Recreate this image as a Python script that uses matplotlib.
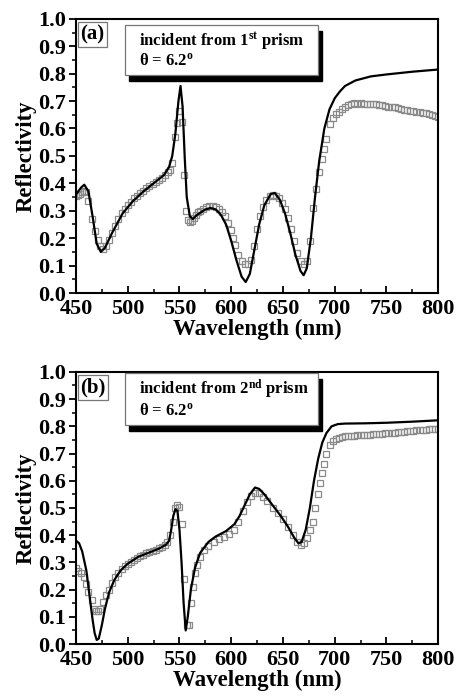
import matplotlib
matplotlib.use("Agg")
import matplotlib.pyplot as plt
from matplotlib.patches import Rectangle
from matplotlib.ticker import MultipleLocator

# ---------------- data: panel (a) ----------------
a_theory_x = [450, 455, 458, 462, 466, 470, 474, 478, 485, 495, 505, 515, 525, 535, 540, 543,
              546, 549, 551, 553, 555, 557, 560, 563, 567, 575, 580, 585, 590, 595, 600, 605,
              610, 614, 618, 622, 627, 632, 638, 642, 647, 652, 657, 662, 667, 670, 673, 677,
              681, 685, 690, 695, 700, 705, 710, 720, 735, 750, 775, 800]
a_theory_y = [0.36, 0.385, 0.395, 0.37, 0.28, 0.18, 0.15, 0.165, 0.22, 0.29, 0.335, 0.37, 0.40,
              0.43, 0.46, 0.50, 0.58, 0.70, 0.755, 0.68, 0.50, 0.35, 0.28, 0.27, 0.285, 0.305,
              0.31, 0.305, 0.285, 0.25, 0.19, 0.12, 0.06, 0.04, 0.07, 0.15, 0.25, 0.32, 0.36,
              0.365, 0.34, 0.29, 0.22, 0.14, 0.08, 0.065, 0.09, 0.20, 0.35, 0.48, 0.60, 0.67,
              0.71, 0.735, 0.755, 0.775, 0.79, 0.797, 0.807, 0.815]

a_exp_x = [450, 452, 454, 456, 458, 460, 462, 465, 468, 471, 473, 476, 479, 482, 485, 488, 491,
           494, 497, 500, 503, 506, 509, 512, 515, 518, 521, 524, 527, 530, 533, 536, 539, 541,
           543, 546, 548, 550, 552, 554, 556, 558, 560, 562, 564, 566, 568, 570, 573, 576, 579,
           582, 585, 588, 591, 594, 597, 600, 602, 604, 607, 610, 613, 616, 619, 622, 625, 628,
           631, 634, 637, 640, 643, 646, 649, 652, 655, 658, 661, 664, 667, 670, 673, 676, 679,
           682, 685, 688, 690, 692, 695, 698, 701, 704, 707, 710, 713, 716, 719, 722, 725, 728,
           731, 734, 737, 740, 743, 746, 749, 752, 755, 758, 761, 764, 767, 770, 773, 776, 779,
           782, 785, 788, 791, 794, 797, 800]
a_exp_y = [0.355, 0.358, 0.362, 0.368, 0.372, 0.37, 0.335, 0.27, 0.225, 0.195, 0.17, 0.162,
           0.17, 0.195, 0.22, 0.245, 0.27, 0.29, 0.305, 0.32, 0.333, 0.345, 0.355, 0.365, 0.373,
           0.382, 0.39, 0.398, 0.405, 0.413, 0.42, 0.43, 0.44, 0.45, 0.475, 0.57, 0.62, 0.665,
           0.625, 0.43, 0.30, 0.265, 0.258, 0.262, 0.272, 0.285, 0.295, 0.30, 0.308, 0.313,
           0.316, 0.316, 0.312, 0.305, 0.295, 0.28, 0.255, 0.23, 0.2, 0.175, 0.14, 0.115, 0.105,
           0.105, 0.12, 0.17, 0.235, 0.28, 0.315, 0.34, 0.352, 0.358, 0.355, 0.345, 0.33, 0.305,
           0.275, 0.235, 0.19, 0.145, 0.115, 0.105, 0.115, 0.19, 0.31, 0.38, 0.44, 0.49, 0.525,
           0.56, 0.615, 0.64, 0.652, 0.66, 0.67, 0.678, 0.686, 0.691, 0.692, 0.69, 0.692, 0.691,
           0.69, 0.691, 0.688, 0.688, 0.685, 0.686, 0.682, 0.68, 0.678, 0.677, 0.673, 0.672,
           0.668, 0.667, 0.665, 0.664, 0.661, 0.66, 0.657, 0.655, 0.652, 0.649, 0.646, 0.643]

# ---------------- data: panel (b) ----------------
b_theory_x = [450, 453, 456, 460, 463, 466, 468, 470, 472, 475, 478, 482, 487, 493, 500, 510,
              520, 530, 537, 540, 542, 544, 546, 548, 550, 552, 554, 556, 558, 561, 565, 570,
              578, 585, 595, 603, 608, 613, 618, 623, 627, 632, 640, 648, 655, 661, 665, 668,
              672, 676, 680, 684, 688, 692, 697, 703, 710, 730, 750, 775, 800]
b_theory_y = [0.38, 0.37, 0.34, 0.27, 0.18, 0.09, 0.04, 0.015, 0.02, 0.07, 0.13, 0.19, 0.235,
              0.27, 0.295, 0.32, 0.335, 0.35, 0.365, 0.38, 0.42, 0.47, 0.495, 0.49, 0.42, 0.30,
              0.15, 0.05, 0.10, 0.20, 0.28, 0.335, 0.375, 0.395, 0.415, 0.44, 0.47, 0.51, 0.55,
              0.575, 0.57, 0.55, 0.51, 0.47, 0.43, 0.39, 0.37, 0.375, 0.42, 0.50, 0.60, 0.68,
              0.74, 0.775, 0.80, 0.808, 0.81, 0.811, 0.813, 0.817, 0.822]

b_exp_x = [450, 452, 455, 458, 460, 462, 465, 467, 469, 471, 473, 476, 479, 482, 485, 488, 491,
           494, 497, 500, 503, 506, 509, 512, 515, 518, 521, 524, 527, 530, 533, 536, 538, 541,
           544, 546, 548, 550, 552, 554, 557, 559, 561, 563, 565, 567, 570, 574, 578, 583, 588,
           593, 598, 603, 607, 611, 615, 619, 623, 627, 631, 635, 640, 645, 650, 655, 660, 664,
           667, 670, 673, 676, 679, 681, 684, 686, 688, 690, 692, 695, 698, 701, 704, 707, 710,
           713, 716, 719, 722, 725, 728, 731, 734, 737, 740, 743, 746, 749, 752, 755, 758, 761,
           764, 767, 770, 773, 776, 779, 782, 785, 788, 791, 794, 797, 800]
b_exp_y = [0.28, 0.27, 0.26, 0.245, 0.22, 0.19, 0.16, 0.13, 0.12, 0.12, 0.13, 0.155, 0.18, 0.2,
           0.225, 0.245, 0.26, 0.275, 0.285, 0.295, 0.303, 0.31, 0.316, 0.322, 0.328, 0.333,
           0.338, 0.343, 0.347, 0.352, 0.357, 0.363, 0.375, 0.40, 0.45, 0.50, 0.51, 0.505, 0.44,
           0.24, 0.07, 0.07, 0.15, 0.21, 0.26, 0.29, 0.32, 0.345, 0.36, 0.375, 0.385, 0.395,
           0.405, 0.42, 0.45, 0.49, 0.52, 0.545, 0.555, 0.555, 0.54, 0.525, 0.50, 0.48, 0.46,
           0.43, 0.40, 0.375, 0.365, 0.37, 0.39, 0.42, 0.45, 0.50, 0.55, 0.59, 0.63, 0.66, 0.70,
           0.73, 0.745, 0.752, 0.758, 0.762, 0.764, 0.765, 0.765, 0.766, 0.767, 0.767, 0.768,
           0.768, 0.769, 0.77, 0.771, 0.772, 0.773, 0.774, 0.775, 0.776, 0.777, 0.778, 0.779,
           0.78, 0.781, 0.783, 0.784, 0.785, 0.785, 0.787, 0.788, 0.789, 0.789, 0.79, 0.79]

panel_labels = ["(a)", "(b)"]
box_lines = [r"incident from 1$^{\mathbf{st}}$ prism", r"incident from 2$^{\mathbf{nd}}$ prism"]
angle_text = r"$\mathbf{\theta}$ = 6.2$^{\mathbf{o}}$"
x_ticks = [450, 500, 550, 600, 650, 700, 750, 800]
y_ticks = [0.0, 0.1, 0.2, 0.3, 0.4, 0.5, 0.6, 0.7, 0.8, 0.9, 1.0]

plt.rcParams['font.family'] = ['Liberation Serif', 'DejaVu Serif']
plt.rcParams['mathtext.fontset'] = 'custom'
plt.rcParams['mathtext.rm'] = 'Liberation Serif:bold'
plt.rcParams['mathtext.bf'] = 'Liberation Serif:bold'
plt.rcParams['mathtext.it'] = 'Liberation Serif:bold'

fig = plt.figure(figsize=(4.59, 6.96), dpi=100)
ax_a = fig.add_axes([0.1656, 0.579, 0.789, 0.394])
ax_b = fig.add_axes([0.1656, 0.0747, 0.789, 0.391])

datasets = [(a_theory_x, a_theory_y, a_exp_x, a_exp_y), (b_theory_x, b_theory_y, b_exp_x, b_exp_y)]
box_geom = [(0.135, 0.796, 0.533, 0.182), (0.135, 0.805, 0.533, 0.19)]

for i, ax in enumerate([ax_a, ax_b]):
    tx, ty, ex, ey = datasets[i]
    ax.plot(ex, ey, linestyle='none', marker='s', markersize=4.2, markerfacecolor='none',
            markeredgecolor='#8a8a8a', markeredgewidth=0.9, zorder=2)
    ax.plot(tx, ty, color='black', linewidth=1.6, zorder=3)
    ax.set_xlim(450, 800)
    ax.set_ylim(0.0, 1.0)
    ax.set_xticks(x_ticks)
    ax.set_yticks(y_ticks)
    ax.set_yticklabels([f"{v:.1f}" for v in y_ticks])
    ax.xaxis.set_minor_locator(MultipleLocator(25))
    ax.yaxis.set_minor_locator(MultipleLocator(0.05))
    ax.tick_params(axis='x', which='both', direction='in', top=False)
    ax.tick_params(axis='y', which='both', direction='out', right=False)
    ax.tick_params(which='major', length=5, width=1.3, labelsize=16)
    ax.tick_params(axis='x', which='major', pad=4)
    ax.tick_params(axis='y', which='major', pad=2)
    ax.tick_params(which='minor', length=3, width=1.1)
    for lab in ax.get_xticklabels() + ax.get_yticklabels():
        lab.set_fontweight('bold')
    for sp in ax.spines.values():
        sp.set_linewidth(1.5)
    ax.set_xlabel("Wavelength (nm)", fontsize=16.5, fontweight='bold', labelpad=0)
    ax.set_ylabel("Reflectivity", fontsize=16.5, fontweight='bold', labelpad=1)

    # panel label box
    ax.text(0.012, 0.943, panel_labels[i], transform=ax.transAxes, fontsize=15,
            fontweight='bold', va='center', ha='left',
            bbox=dict(boxstyle='square,pad=0.12', facecolor='white', edgecolor='#777777', linewidth=0.9))

    # text box with shadow
    bx, by, bw, bh = box_geom[i]
    shadow = Rectangle((bx + 0.012, by - 0.022), bw, bh, transform=ax.transAxes,
                       facecolor='black', edgecolor='black', zorder=4)
    ax.add_patch(shadow)
    box = Rectangle((bx, by), bw, bh, transform=ax.transAxes,
                    facecolor='white', edgecolor='#777777', linewidth=0.9, zorder=5)
    ax.add_patch(box)
    ax.text(bx + 0.04, by + bh * 0.68, box_lines[i], transform=ax.transAxes, fontsize=12,
            fontweight='bold', va='center', ha='left', zorder=6)
    ax.text(bx + 0.04, by + bh * 0.27, angle_text, transform=ax.transAxes, fontsize=12,
            fontweight='bold', va='center', ha='left', zorder=6)

fig.savefig("out.png", dpi=100)
